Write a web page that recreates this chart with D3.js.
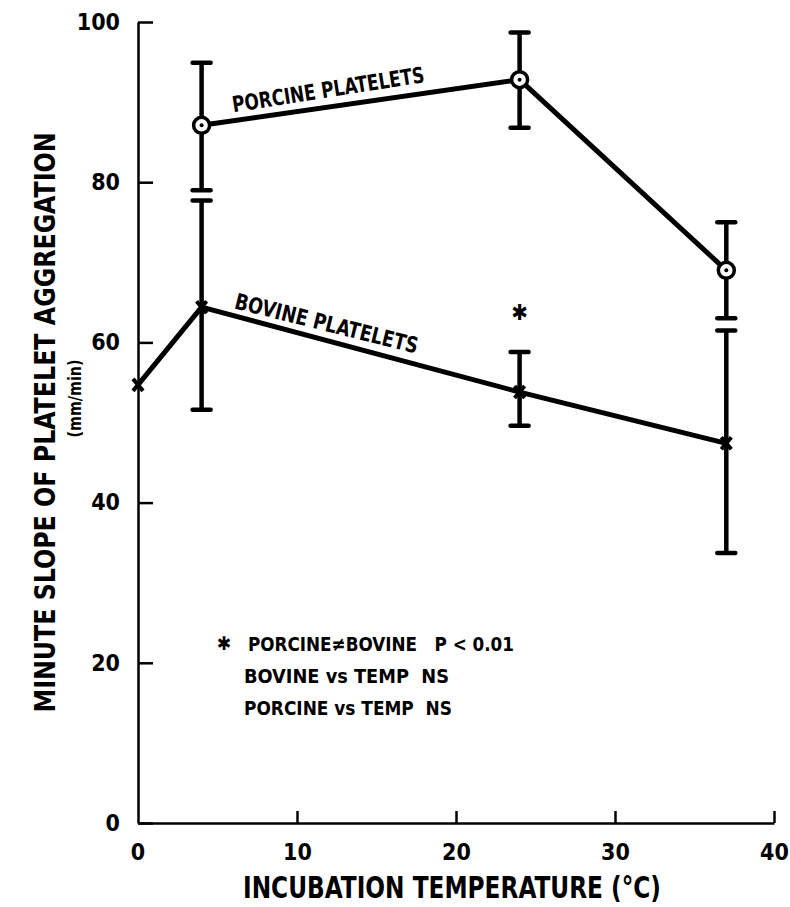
<!DOCTYPE html>
<html>
<head>
<meta charset="utf-8">
<script src="https://cdn.jsdelivr.net/npm/d3@7"></script>
<style>
    body { margin: 0; background: #fff; }
    svg text { font-family: "Liberation Sans Narrow", "DejaVu Sans Condensed", "Liberation Sans", sans-serif; font-weight: bold; fill: #000; }
</style>
</head>
<body>
<div class="content"></div>
<script>
(function () {
    'use strict';

    // porcine platelets: temperature, mean, error bar bounds
    var porcineTemp = [4, 24, 37],
        porcineMean = [87.1, 92.8, 69.0],
        porcineHigh = [94.9, 98.7, 75.0],
        porcineLow = [79.0, 86.8, 63.0];

    // bovine platelets (no error bar at 0 °C)
    var bovineTemp = [0, 4, 24, 37],
        bovineMean = [54.7, 64.4, 53.8, 47.4],
        bovineHigh = [null, 77.7, 58.8, 61.5],
        bovineLow = [null, 51.6, 49.6, 33.7];

    var starPoint = {x: 24, y: 63.8};

    var xTicks = [0, 10, 20, 30, 40],
        yTicks = [0, 20, 40, 60, 80, 100];

    var notes = ["PORCINE\u2260BOVINE   P < 0.01", "BOVINE vs TEMP  NS", "PORCINE vs TEMP  NS"];

    var width = 790, height = 907;

    var svg = d3.select(".content").append("svg")
        .attr("width", width)
        .attr("height", height);

    var x = d3.scaleLinear().domain([0, 40]).range([138, 774]);
    var y = d3.scaleLinear().domain([0, 100]).range([823, 22]);

    function zip(t, m, hi, lo) {
        return t.map(function (d, i) {
            return {t: d, m: m[i], hi: hi[i], lo: lo[i]};
        });
    }
    var porcine = zip(porcineTemp, porcineMean, porcineHigh, porcineLow),
        bovine = zip(bovineTemp, bovineMean, bovineHigh, bovineLow);

    // axes
    var yAxis = svg.append("g")
        .attr("transform", "translate(" + x(0) + ",0)")
        .call(d3.axisLeft(y).tickValues(yTicks).tickSizeInner(-15).tickSizeOuter(0).tickPadding(18));
    var xAxis = svg.append("g")
        .attr("transform", "translate(0," + y(0) + ")")
        .call(d3.axisBottom(x).tickValues(xTicks.slice(1)).tickSizeInner(-12).tickSizeOuter(0).tickPadding(21));
    // the zero label of the x axis sits under the corner
    xAxis.append("text")
        .attr("x", x(0)).attr("y", 21).attr("dy", "0.71em")
        .attr("text-anchor", "middle").text("0");

    [xAxis, yAxis].forEach(function (a) {
        a.select(".domain").attr("stroke", "#000").attr("stroke-width", 2.5);
        a.selectAll(".tick line").attr("stroke", "#000").attr("stroke-width", 2.5);
        a.selectAll("text").attr("font-size", 23).attr("fill", "#000")
            .attr("font-family", null);
    });

    // connecting lines
    var line = d3.line()
        .x(function (d) { return x(d.t); })
        .y(function (d) { return y(d.m); });

    [porcine, bovine].forEach(function (s) {
        svg.append("path")
            .datum(s)
            .attr("d", line)
            .attr("fill", "none")
            .attr("stroke", "#000")
            .attr("stroke-width", 5)
            .attr("stroke-linejoin", "round");
    });

    // error bars
    function drawBars(s) {
        var g = svg.append("g").selectAll("g")
            .data(s.filter(function (d) { return d.hi !== null; }))
            .enter().append("g");
        g.append("line")
            .attr("x1", function (d) { return x(d.t); })
            .attr("x2", function (d) { return x(d.t); })
            .attr("y1", function (d) { return y(d.hi); })
            .attr("y2", function (d) { return y(d.lo); })
            .attr("stroke", "#000").attr("stroke-width", 4.5);
        ["hi", "lo"].forEach(function (k) {
            g.append("line")
                .attr("x1", function (d) { return x(d.t) - 9; })
                .attr("x2", function (d) { return x(d.t) + 9; })
                .attr("y1", function (d) { return y(d[k]); })
                .attr("y2", function (d) { return y(d[k]); })
                .attr("stroke", "#000").attr("stroke-width", 4.5)
                .attr("stroke-linecap", "round");
        });
    }
    drawBars(porcine);
    drawBars(bovine);

    // porcine markers: open circle with centre dot
    var pm = svg.append("g").selectAll("g")
        .data(porcine).enter().append("g")
        .attr("transform", function (d) { return "translate(" + [x(d.t), y(d.m)] + ")"; });
    pm.append("circle").attr("r", 8).attr("fill", "#fff")
        .attr("stroke", "#000").attr("stroke-width", 3.5);
    pm.append("circle").attr("r", 2).attr("fill", "#000");

    // bovine markers: small crosses
    svg.append("g").selectAll("path")
        .data(bovine).enter().append("path")
        .attr("transform", function (d) { return "translate(" + [x(d.t), y(d.m)] + ")"; })
        .attr("d", "M-5,-6L5,6M5,-6L-5,6")
        .attr("stroke", "#000").attr("stroke-width", 4);

    // significance star
    svg.append("text")
        .attr("x", x(starPoint.x)).attr("y", y(starPoint.y))
        .attr("dy", "0.35em").attr("text-anchor", "middle")
        .attr("font-size", 22).text("\u2731");

    // series labels
    svg.append("text")
        .attr("transform", "translate(" + [x(porcineTemp[0]) + 32, y(porcineMean[0]) - 13] + ") rotate(-9)")
        .attr("font-size", 22).attr("textLength", 194).attr("lengthAdjust", "spacingAndGlyphs")
        .text("PORCINE PLATELETS");
    svg.append("text")
        .attr("transform", "translate(" + [x(bovineTemp[1]) + 32, y(bovineMean[1]) + 1] + ") rotate(14)")
        .attr("font-size", 22).attr("textLength", 188).attr("lengthAdjust", "spacingAndGlyphs")
        .text("BOVINE PLATELETS");

    // statistics notes
    var noteWidths = [266, 205, 208];
    var notesG = svg.append("g").attr("transform", "translate(" + [x(0) + 108, 651] + ")");
    notesG.append("text").attr("x", -22).attr("y", -1).attr("font-size", 19).attr("text-anchor", "middle").text("\u2731");
    notesG.selectAll("text.note")
        .data(notes).enter().append("text")
        .attr("class", "note")
        .attr("x", function (d, i) { return i === 0 ? 2 : -2; })
        .attr("y", function (d, i) { return i * 32; })
        .attr("font-size", 20)
        .attr("xml:space", "preserve")
        .style("white-space", "pre")
        .attr("textLength", function (d, i) { return noteWidths[i]; })
        .attr("lengthAdjust", "spacingAndGlyphs")
        .text(function (d) { return d; });

    // axis titles
    svg.append("text")
        .attr("transform", "translate(55," + y(50) + ") rotate(-90)")
        .attr("text-anchor", "middle").attr("font-size", 28)
        .attr("textLength", 580).attr("lengthAdjust", "spacingAndGlyphs")
        .text("MINUTE SLOPE OF PLATELET AGGREGATION");
    svg.append("text")
        .attr("transform", "translate(81," + y(53) + ") rotate(-90)")
        .attr("text-anchor", "middle").attr("font-size", 17)
        .attr("textLength", 78).attr("lengthAdjust", "spacingAndGlyphs")
        .text("(mm/min)");
    svg.append("text")
        .attr("x", 452).attr("y", 898)
        .attr("text-anchor", "middle").attr("font-size", 30)
        .attr("textLength", 418).attr("lengthAdjust", "spacingAndGlyphs")
        .text("INCUBATION TEMPERATURE (\u00b0C)");
}());
</script>
</body>
</html>
